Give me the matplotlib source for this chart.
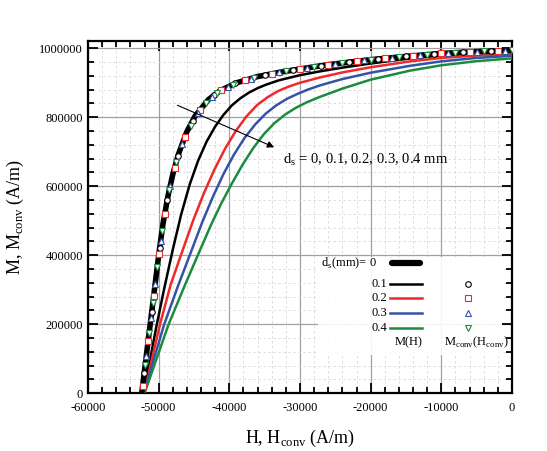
import matplotlib
matplotlib.use('Agg')
import matplotlib.pyplot as plt
import matplotlib.ticker as ticker
from matplotlib.lines import Line2D
from matplotlib.patches import Rectangle

# M(H) curves, one per d_s (mm)
H_d00 = [-52400, -51800, -51200, -50600, -50000, -49400, -48700, -48000, -47220, -46040, -44860,
         -42970, -41320, -38960, -36000, -33000, -30000, -26230, -20000, -14440, -10000, -5000, 0]
M_d00 = [0, 100000, 200000, 300000, 400000, 490000, 570000, 635000, 692000, 757000, 803000,
         851000, 877000, 900000, 918000, 930000, 940000, 952000, 967000, 977500, 985000, 990500, 994000]

H_d01 = [-52200, -51200, -50280, -49200, -48020, -46820, -45620, -44420, -43220, -42020, -40820,
         -39620, -38420, -37220, -36020, -34820, -33000, -30000, -27170, -24000, -20000, -14440,
         -10000, -5000, 0]
M_d01 = [0, 100000, 198000, 305000, 415000, 518200, 604600, 674200, 729400, 772600, 807400,
         835000, 855400, 871600, 884200, 894400, 907100, 922100, 933100, 943900, 955900, 970400,
         979300, 985300, 988300]

H_d02 = [-52100, -51000, -49810, -48300, -46600, -45100, -43600, -42100, -40600, -39100, -37600,
         -36100, -34600, -33100, -31600, -30000, -27170, -24000, -20000, -14440, -10000, -5000, 0]
M_d02 = [0, 95000, 200000, 315000, 415000, 502000, 580000, 649000, 709000, 760000, 802000,
         835000, 858000, 876000, 889000, 900000, 915500, 930000, 945000, 962000, 972000, 979000, 983000]

H_d03 = [-52100, -50700, -49250, -47250, -45330, -43830, -42330, -40830, -39330, -37830, -36330,
         -34830, -33330, -31830, -30330, -28830, -27170, -24000, -20000, -14440, -10000, -5000, 0]
M_d03 = [0, 97000, 198000, 312000, 415000, 496000, 569500, 635500, 692500, 740500, 779500,
         811000, 835000, 853750, 868000, 880750, 892400, 910800, 929200, 949200, 962100, 972100, 978100]

H_d04 = [-52000, -50300, -48630, -46400, -44150, -42650, -41150, -39650, -38150, -36650, -35150,
         -33650, -32150, -30650, -29150, -27170, -24000, -20000, -14440, -10000, -5000, 0]
M_d04 = [0, 100000, 198000, 308000, 415000, 485500, 550000, 607750, 661750, 709750, 750250,
         782500, 807250, 826750, 842500, 859300, 883100, 909100, 935200, 950700, 962700, 970700]

# M_conv(H_conv) points
Hc_d01 = [-52040, -50990, -49870, -48790, -47280, -45110, -42100, -39260, -35000, -31000, -27000,
          -23000, -19000, -15000, -11000, -7000, -3000]
Mc_d01 = [60000, 236000, 420000, 560000, 688000, 790000, 865000, 898000, 922500, 936700, 949500,
          959800, 969000, 976500, 983500, 988500, 992000]

Hc_d02 = [-52280, -51490, -50710, -49970, -49140, -47760, -46300, -44110, -41230, -37800, -34000,
          -30000, -26000, -22000, -18000, -14000, -10000, -6000, -2000]
Mc_d02 = [20000, 152000, 282000, 404000, 520000, 652000, 743000, 820000, 878000, 908000, 926000,
          940000, 952500, 962200, 970800, 978200, 985000, 989500, 992800]

Hc_d03 = [-51750, -51100, -50510, -49730, -48350, -46710, -44480, -42520, -40240, -37000, -33000,
          -29000, -25000, -21000, -17000, -13000, -9000, -5000, -1000]
Mc_d03 = [108000, 217000, 316000, 440000, 602000, 722000, 811000, 858000, 888000, 912000, 930000,
          943200, 955000, 964600, 972700, 980000, 986100, 990500, 993300]

Hc_d04 = [-51910, -51360, -50830, -50200, -49530, -48470, -47520, -45480, -43350, -41720, -39550,
          -36500, -32000, -28000, -24000, -20000, -16000, -12000, -8000, -4000, 0]
Mc_d04 = [82000, 174000, 262000, 367000, 470000, 590000, 670000, 775000, 840000, 870000, 895000,
          915000, 933300, 946300, 957500, 967000, 974600, 981500, 987200, 991300, 994000]

ds_labels = ['0.1', '0.2', '0.3', '0.4']
colors = ['black', '#ee2a2a', '#3553a6', '#1b8c3e']
conv_markers = ['o', 's', '^', 'v']

plt.rcParams['font.family'] = ['Liberation Serif', 'DejaVu Serif']
plt.rcParams['mathtext.fontset'] = 'custom'
plt.rcParams['mathtext.rm'] = 'Liberation Serif'
plt.rcParams['axes.unicode_minus'] = False

fig = plt.figure(figsize=(5.47, 4.51), dpi=100)
ax = fig.add_axes([0.1609, 0.128, 0.7751, 0.781])

curves = [(H_d01, M_d01), (H_d02, M_d02), (H_d03, M_d03), (H_d04, M_d04)]
convs = [(Hc_d01, Mc_d01), (Hc_d02, Mc_d02), (Hc_d03, Mc_d03), (Hc_d04, Mc_d04)]

for (h, m), c in zip(curves, colors):
    ax.plot(h, m, color=c, lw=1.8, zorder=3)
ax.plot(H_d00, M_d00, color='black', lw=4.0, solid_capstyle='butt', zorder=4)
for (h, m), c, mk in zip(convs, colors, conv_markers):
    ax.plot(h, m, linestyle='none', marker=mk, markersize=4, markerfacecolor='white',
            markeredgecolor=c, markeredgewidth=0.8, zorder=5)

ax.set_xlim(-60000, 0)
ax.set_ylim(0, 1021000)
ax.xaxis.set_major_locator(ticker.MultipleLocator(10000))
ax.xaxis.set_minor_locator(ticker.MultipleLocator(2000))
ax.yaxis.set_major_locator(ticker.MultipleLocator(200000))
ax.yaxis.set_minor_locator(ticker.MultipleLocator(40000))
ax.yaxis.set_major_formatter(ticker.FormatStrFormatter('%d'))
ax.xaxis.set_major_formatter(ticker.FormatStrFormatter('%d'))

ax.grid(True, which='major', color='#a0a0a0', lw=0.9, zorder=0)
ax.grid(True, which='minor', color='#d8d8d8', lw=0.6, linestyle=(0, (3, 3)), zorder=0)
ax.set_axisbelow(True)

ax.tick_params(which='both', direction='in', top=True, right=True, labelsize=9, width=1.3)
ax.tick_params(which='major', length=7)
ax.tick_params(which='minor', length=4)
ax.tick_params(axis='x', pad=6)
for s in ax.spines.values():
    s.set_linewidth(1.6)

ax.set_xlabel(r'H, H$_{\mathregular{conv}}$ (A/m)', fontsize=13, labelpad=10)
ax.set_ylabel(r'M, M$_{\mathregular{conv}}$ (A/m)', fontsize=13, labelpad=10)

# d_s arrow
ax.annotate('', xy=(-33300, 710000), xytext=(-47700, 838000),
            arrowprops=dict(arrowstyle='-|>', color='black', lw=0.8, mutation_scale=10), zorder=6)
ax.text(-32400, 676000, r'd$_{\mathregular{s}}$ = 0, 0.1, 0.2, 0.3, 0.4 mm', fontsize=10.5,
        va='center', ha='left', zorder=6)

# legend, drawn in axes coordinates
T = ax.transAxes
ax.add_patch(Rectangle((0.5425, 0.109), 0.434, 0.278, transform=T, facecolor='white',
                       edgecolor='none', alpha=0.9, zorder=2))
ax.text(0.681, 0.368, r'd$_{\mathregular{s}}$(mm)= 0', transform=T, fontsize=9, ha='right',
        va='center', zorder=6)
ax.add_line(Line2D([0.716, 0.783], [0.369, 0.369], transform=T, color='black', lw=4.5,
                   solid_capstyle='round', zorder=6))
rows_y = [0.311, 0.2705, 0.228, 0.1855]
for lab, c, mk, y in zip(ds_labels, colors, conv_markers, rows_y):
    ax.text(0.705, y, lab, transform=T, fontsize=9, ha='right', va='center', zorder=6)
    ax.add_line(Line2D([0.7115, 0.787], [y, y], transform=T, color=c, lw=1.8, zorder=6))
    ax.add_line(Line2D([0.897], [y], transform=T, linestyle='none', marker=mk, markersize=4,
                       markerfacecolor='white', markeredgecolor=c, markeredgewidth=0.8, zorder=6))
ax.text(0.755, 0.1436, 'M(H)', transform=T, fontsize=9, ha='center', va='center', zorder=6)
ax.text(0.917, 0.1436, r'M$_{\mathregular{conv}}$(H$_{\mathregular{conv}}$)', transform=T,
        fontsize=9, ha='center', va='center', zorder=6)

fig.savefig('out.png', dpi=100)
